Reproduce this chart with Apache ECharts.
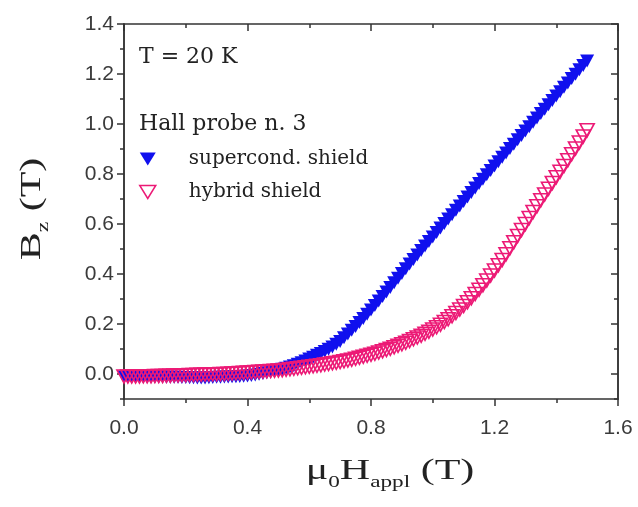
<!DOCTYPE html>
<html><head><meta charset="utf-8">
<script src="https://cdn.jsdelivr.net/npm/echarts@6/dist/echarts.min.js"></script>
<style>html,body{margin:0;padding:0;background:#fff}#c{width:638px;height:507px}</style>
</head><body><div id="c"></div>
<script>
// Applied field mu0*H_appl (T)
const fieldT = [0.0000,0.0125,0.0250,0.0375,0.0500,0.0625,0.0750,0.0875,0.1000,0.1125,0.1250,0.1375,0.1500,0.1625,0.1750,0.1875,0.2000,0.2125,0.2250,0.2375,0.2500,0.2625,0.2750,0.2875,0.3000,0.3125,0.3250,0.3375,0.3500,0.3625,0.3750,0.3875,0.4000,0.4125,0.4250,0.4375,0.4500,0.4625,0.4750,0.4875,0.5000,0.5125,0.5250,0.5375,0.5500,0.5625,0.5750,0.5875,0.6000,0.6125,0.6250,0.6375,0.6500,0.6625,0.6750,0.6875,0.7000,0.7125,0.7250,0.7375,0.7500,0.7625,0.7750,0.7875,0.8000,0.8125,0.8250,0.8375,0.8500,0.8625,0.8750,0.8875,0.9000,0.9125,0.9250,0.9375,0.9500,0.9625,0.9750,0.9875,1.0000,1.0125,1.0250,1.0375,1.0500,1.0625,1.0750,1.0875,1.1000,1.1125,1.1250,1.1375,1.1500,1.1625,1.1750,1.1875,1.2000,1.2125,1.2250,1.2375,1.2500,1.2625,1.2750,1.2875,1.3000,1.3125,1.3250,1.3375,1.3500,1.3625,1.3750,1.3875,1.4000,1.4125,1.4250,1.4375,1.4500,1.4625,1.4750,1.4875,1.5000];
// Bz (T), supercond. shield
const supercondB = [-0.012,-0.012,-0.012,-0.012,-0.012,-0.012,-0.012,-0.012,-0.012,-0.012,-0.012,-0.013,-0.013,-0.013,-0.013,-0.014,-0.014,-0.015,-0.015,-0.016,-0.016,-0.016,-0.015,-0.014,-0.013,-0.013,-0.012,-0.012,-0.011,-0.011,-0.010,-0.009,-0.008,-0.006,-0.004,-0.001,0.002,0.005,0.008,0.011,0.015,0.019,0.023,0.028,0.033,0.039,0.045,0.052,0.060,0.067,0.075,0.082,0.090,0.099,0.108,0.119,0.130,0.145,0.160,0.175,0.190,0.206,0.222,0.239,0.256,0.274,0.292,0.310,0.328,0.346,0.365,0.383,0.402,0.421,0.440,0.458,0.476,0.494,0.512,0.530,0.548,0.566,0.584,0.602,0.620,0.637,0.655,0.672,0.690,0.708,0.726,0.744,0.762,0.779,0.797,0.814,0.832,0.849,0.867,0.884,0.902,0.919,0.937,0.954,0.972,0.989,1.007,1.024,1.042,1.059,1.077,1.094,1.112,1.129,1.147,1.164,1.182,1.199,1.217,1.234,1.252];
// Bz (T), hybrid shield
const hybridB = [-0.010,-0.010,-0.010,-0.010,-0.010,-0.009,-0.009,-0.009,-0.008,-0.008,-0.008,-0.007,-0.007,-0.006,-0.006,-0.005,-0.005,-0.004,-0.004,-0.003,-0.003,-0.002,-0.002,-0.001,-0.001,0.000,0.000,0.001,0.002,0.003,0.004,0.005,0.006,0.007,0.008,0.009,0.010,0.011,0.012,0.013,0.014,0.015,0.017,0.019,0.021,0.023,0.025,0.027,0.029,0.031,0.033,0.035,0.038,0.040,0.043,0.045,0.048,0.051,0.054,0.057,0.061,0.065,0.069,0.073,0.077,0.081,0.086,0.091,0.096,0.101,0.107,0.113,0.119,0.125,0.132,0.139,0.146,0.153,0.161,0.169,0.178,0.187,0.197,0.208,0.219,0.231,0.244,0.258,0.272,0.287,0.303,0.320,0.337,0.355,0.374,0.394,0.414,0.435,0.456,0.479,0.503,0.527,0.552,0.576,0.600,0.624,0.648,0.671,0.695,0.718,0.741,0.764,0.787,0.809,0.832,0.855,0.879,0.902,0.926,0.950,0.975];
const yMajorTicks = [0.0,0.2,0.4,0.6,0.8,1.0,1.2,1.4];
const yMinorTicks = [-0.1,0.1,0.3,0.5,0.7,0.9,1.1,1.3];
const seriesNames = ['supercond. shield','hybrid shield'];
const noteTemp = 'T = 20 K';
const noteProbe = 'Hall probe n. 3';

const BLUE = '#1010ee', PINK = '#ec1a76', AX = '#333';
const chart = echarts.init(document.getElementById('c'), null, {renderer:'canvas'});
const lbl = {fontFamily:'Liberation Sans', fontSize:21, color:'#3a3a3a'};
function xAx(pos, showLabel){
  return {type:'value', position:pos, min:0, max:1.6, interval:0.4,
    axisLine:{show:true, onZero:false, lineStyle:{color:AX, width:1.5}},
    axisTick:{show:true, inside:pos==='top', length:7, lineStyle:{color:AX, width:1.5}},
    minorTick:{show:true, splitNumber:2, length:4, lineStyle:{color:AX, width:1.5}},
    axisLabel:Object.assign({show:showLabel, margin:19, formatter:v=>v.toFixed(1)}, lbl),
    splitLine:{show:false}};
}
function yAx(pos, ticks, len, showLabel){
  return {type:'value', position:pos, min:-0.1, max:1.4,
    axisLine:{show:true, onZero:false, lineStyle:{color:AX, width:1.5}},
    axisTick:{show:true, inside:pos==='right', length:len, customValues:ticks, lineStyle:{color:AX, width:1.5}},
    axisLabel:Object.assign({show:showLabel, margin:10, customValues:ticks, formatter:v=>v.toFixed(1)}, lbl),
    splitLine:{show:false}};
}
const tri = 'path://M0,0L16,0L8,13Z';
const serif = {fontFamily:'DejaVu Serif', fontSize:22, fill:'#222'};
chart.setOption({
  animation:false,
  backgroundColor:'#fff',
  grid:{left:124, right:20, top:24, bottom:108},
  xAxis:[xAx('bottom', true), xAx('top', false)],
  yAxis:[yAx('left', yMajorTicks, 7, true), yAx('left', yMinorTicks, 4, false),
         yAx('right', yMajorTicks, 7, false), yAx('right', yMinorTicks, 4, false)],
  legend:{left:139, top:149, padding:0, orient:'vertical', itemGap:13, itemWidth:16, itemHeight:13,
    textStyle:{fontFamily:'DejaVu Serif', fontSize:20, color:'#222', padding:[0,0,0,28]},
    data:[{name:seriesNames[0], icon:tri, itemStyle:{color:BLUE}},
          {name:seriesNames[1], icon:tri, itemStyle:{color:'#fff', borderColor:PINK, borderWidth:1.5}}]},
  series:[
    {type:'scatter', name:seriesNames[0], xAxisIndex:0, yAxisIndex:0,
      data:fieldT.map((x,i)=>[x, supercondB[i]]),
      symbol:'triangle', symbolRotate:180, symbolSize:[14,13], itemStyle:{color:BLUE, opacity:1}},
    {type:'scatter', name:seriesNames[1], xAxisIndex:0, yAxisIndex:0,
      data:fieldT.map((x,i)=>[x, hybridB[i]]),
      symbol:'triangle', symbolRotate:180, symbolSize:[14,13],
      itemStyle:{color:'rgba(255,255,255,0)', borderColor:PINK, borderWidth:1.7, opacity:1}}
  ],
  graphic:[
    {type:'text', left:139, top:46, style:Object.assign({text:noteTemp}, serif)},
    {type:'text', left:139, top:113, style:Object.assign({text:noteProbe}, serif)},
    {type:'text', x:32, y:209, rotation:Math.PI/2, scaleX:1.4,
      style:{text:'{m|B}{s|z}{m| (T)}', align:'center', verticalAlign:'middle',
        rich:{m:{fontFamily:'Liberation Serif', fontSize:30, fill:'#222', lineHeight:40, verticalAlign:'middle'},
              s:{fontFamily:'Liberation Serif', fontSize:17, fill:'#222', lineHeight:17, verticalAlign:'bottom'}}}},
    {type:'text', x:390, y:471, scaleX:1.45,
      style:{text:'{m|\u03bc}{s|0}{m|H}{s|appl}{m| (T)}', align:'center', verticalAlign:'middle',
        rich:{m:{fontFamily:'Liberation Serif', fontSize:29, fill:'#222', lineHeight:40, verticalAlign:'middle'},
              s:{fontFamily:'Liberation Serif', fontSize:16, fill:'#222', lineHeight:16, verticalAlign:'bottom'}}}}
  ]
});
</script></body></html>
